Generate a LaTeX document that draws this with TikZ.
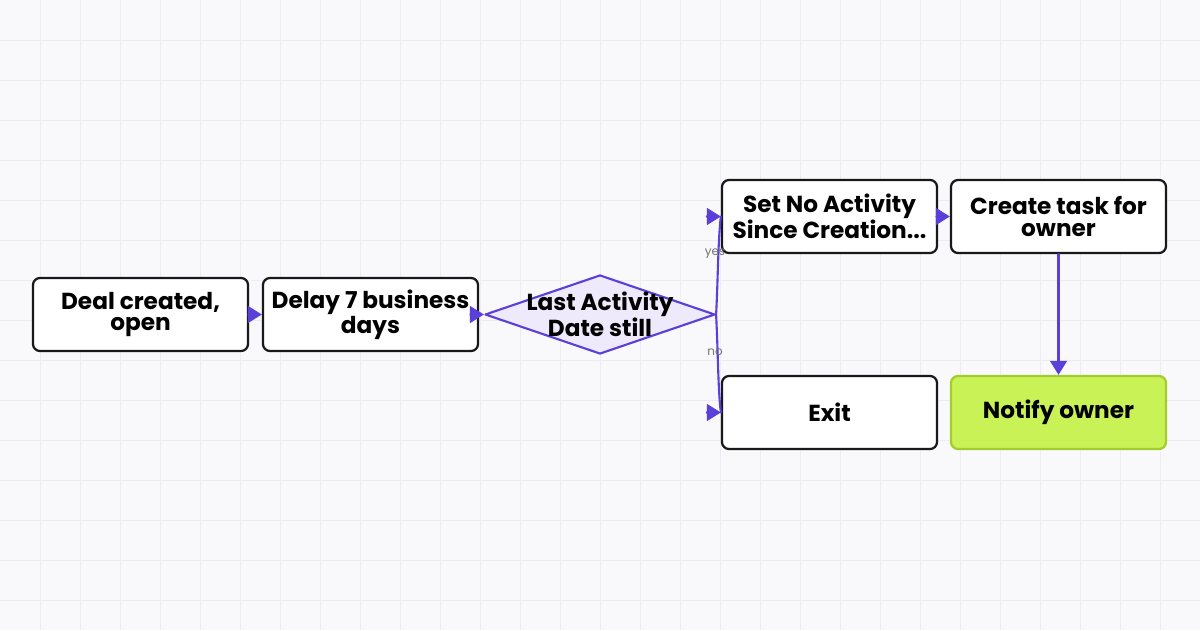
\documentclass[tikz,border=0pt]{standalone}
\usepackage{fontspec}
\setmainfont{Poppins}
\usetikzlibrary{arrows.meta,shapes.geometric}
\definecolor{flowline}{HTML}{5B3FD9}
\definecolor{gridline}{HTML}{ECEBF6}
\definecolor{bgcol}{HTML}{F9F9FC}
\definecolor{diafill}{HTML}{EEEAFB}
\definecolor{limefill}{HTML}{C8F255}
\definecolor{limeedge}{HTML}{A3CC2E}
\tikzset{
  box/.style={draw=black!90,line width=1.6pt,rounded corners=5pt,fill=white,
    minimum width=5.375cm,minimum height=1.825cm,inner sep=0pt,align=center,
    font=\fontsize{16.5}{15}\selectfont\bfseries},
  flow/.style={draw=flowline,line width=1.5pt,-{Triangle[length=0.35cm,width=0.42cm]}},
  edgelab/.style={font=\fontsize{8.5}{9}\selectfont,text=black!55}
}
\begin{document}
\begin{tikzpicture}[line cap=round,line join=round,x=0.025cm,y=-0.025cm]
				\useasboundingbox (0,0) rectangle (1200,630);
				\fill[bgcol] (0,0) rectangle (1200,630);
				\foreach \gx in {40,80,...,1160} \draw[gridline,line width=0.5pt] (\gx,0) -- (\gx,630);
				\foreach \gy in {40,80,...,600} \draw[gridline,line width=0.5pt] (0,\gy) -- (1200,\gy);
				% nodes
				\node[box] (deal) at (140.5,314.5) {Deal created,\\open};
				\node[box] (delay) at (370.5,314.5) {Delay 7 business\\days};
				\node[diamond,draw=flowline,fill=diafill,line width=1.5pt,minimum width=5.75cm,minimum height=1.975cm,inner sep=0pt,
					label={[align=center,font=\fontsize{16.5}{15}\selectfont\bfseries]center:Last Activity\\Date still}] (check) at (600,314.5) {};
				\node[box] (setprop) at (829.5,216.5) {Set No Activity\\Since Creation...};
				\node[box] (task) at (1058.5,216.5) {Create task for\\owner};
				\node[box] (exit) at (829.5,412.5) {Exit};
				\node[box,fill=limefill,draw=limeedge] (notify) at (1058.5,412.5) {Notify owner};
				\coordinate (yesin) at ([xshift=-0.35cm]setprop.west);
				\coordinate (noin) at ([xshift=-0.35cm]exit.west);
				% connectors
				\draw[flow] (deal) -- (delay);
				\draw[flow] (delay) -- (check.west);
				\draw[flowline,line width=1.5pt] (check.east) .. controls (718,280) and (718,240) .. (setprop.west);
				\draw[flow] (yesin) -- (setprop.west);
				\draw[flowline,line width=1.5pt] (check.east) .. controls (718,350) and (718,390) .. (exit.west);
				\draw[flow] (noin) -- (exit.west);
				\draw[flow] (setprop) -- (task);
				\draw[flow] (task) -- (notify);
				\node[edgelab] (yes) at (715,254) {yes};
				\node[edgelab] (no) at (715,352) {no};
			\end{tikzpicture}
\end{document}
